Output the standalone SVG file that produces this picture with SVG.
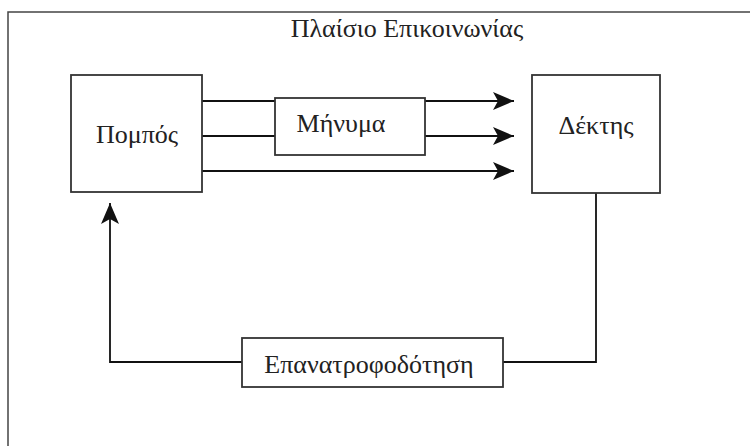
<svg xmlns="http://www.w3.org/2000/svg" width="750" height="446" viewBox="0 0 750 446">
  <style>
    .box { fill: #ffffff; stroke: #333; stroke-width: 1.8; }
    .line { fill: none; stroke: #111; stroke-width: 1.8; }
    .frame { fill: none; stroke: #444; stroke-width: 1.5; }
    text { font-family: "Liberation Serif", "DejaVu Serif", serif; fill: #222; text-anchor: middle; }
    .lbl { font-size: 26px; }
  </style>
  <defs>
    <marker id="arrow" viewBox="0 0 22 20" refX="21" refY="10" markerWidth="22" markerHeight="20" markerUnits="userSpaceOnUse" orient="auto">
      <path d="M0,1 L21,10 L0,19 L5,10 Z" fill="#111"/>
    </marker>
  </defs>

  <rect width="750" height="446" fill="#ffffff"/>

  <!-- outer frame -->
  <path class="frame" d="M8,446 V12 H750"/>
  <text class="lbl" x="407" y="37">Πλαίσιο Επικοινωνίας</text>

  <g id="connectors">
    <line class="line" x1="202" y1="101" x2="275" y2="101"/>
    <line class="line" x1="202" y1="136" x2="275" y2="136"/>
    <line class="line" x1="425" y1="101" x2="514" y2="101" marker-end="url(#arrow)"/>
    <line class="line" x1="425" y1="136" x2="514" y2="136" marker-end="url(#arrow)"/>
    <line class="line" x1="202" y1="171" x2="514" y2="171" marker-end="url(#arrow)"/>
    <polyline class="line" points="596,193 596,362 503,362"/>
    <polyline class="line" points="242,362 110,362 110,203" marker-end="url(#arrow)"/>
  </g>

  <g id="pompos">
    <rect class="box" x="71" y="75" width="131" height="117"/>
    <text class="lbl" x="137" y="143">Πομπός</text>
  </g>

  <g id="minyma">
    <rect class="box" x="275" y="98" width="150" height="57"/>
    <text class="lbl" x="341" y="132">Μήνυμα</text>
  </g>

  <g id="dektis">
    <rect class="box" x="532" y="75" width="128" height="118"/>
    <text class="lbl" x="596" y="134">Δέκτης</text>
  </g>

  <g id="feedback">
    <rect class="box" x="242" y="338" width="261" height="49"/>
    <text class="lbl" x="369" y="373">Επανατροφοδότηση</text>
  </g>
</svg>
